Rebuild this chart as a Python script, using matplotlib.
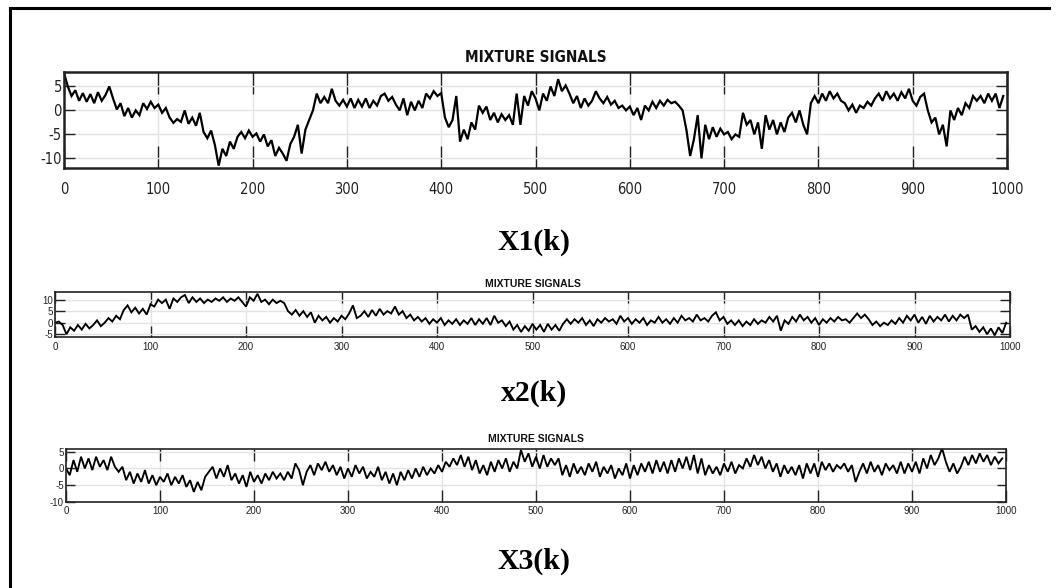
import os
import numpy as np
import matplotlib
matplotlib.use("Agg")
import matplotlib.pyplot as plt
import matplotlib.font_manager as fm
from matplotlib.lines import Line2D

plt.rcParams["axes.unicode_minus"] = False

# ---------------- data (sample index, step 4) ----------------
k = np.arange(0, 1000, 4)

x1 = [7.8, 5.0, 3.0, 4.2, 2.0, 3.6, 1.8, 3.4, 1.5, 3.8,
      2.0, 3.2, 5.0, 2.5, 0.2, 1.5, -1.2, 0.5, -1.5, 0.0,
      -1.0, 1.5, 0.3, 1.8, 0.5, 1.2, -0.5, 0.5, -1.5, -2.6,
      -1.8, -2.4, 0.0, -2.8, -1.5, -3.2, -0.5, -4.5, -5.8, -4.2,
      -7.2, -11.5, -8.0, -9.5, -6.5, -8.0, -5.5, -4.5, -5.8, -4.2,
      -5.5, -4.8, -6.5, -5.0, -7.5, -6.2, -9.5, -7.8, -9.0, -10.5,
      -7.0, -5.5, -3.0, -9.0, -4.0, -2.0, 0.0, 3.5, 1.5, 2.8,
      1.5, 4.5, 2.0, 1.0, 2.2, 0.8, 2.5, 0.5, 2.2, 0.8,
      2.5, 0.5, 2.0, 1.0, 3.0, 3.5, 2.0, 2.8, 1.2, 0.0,
      2.5, -1.0, 1.8, 0.0, 2.0, 0.5, 3.5, 2.5, 4.0, 3.0,
      3.6, -1.5, -3.5, -2.0, 3.0, -6.5, -4.0, -6.0, -2.5, -4.0,
      1.0, -0.5, 0.8, -2.0, -0.5, -2.5, -0.8, -2.0, -1.0, -3.0,
      3.5, -3.0, 3.0, 1.0, 4.0, 2.5, 0.0, 3.5, 2.0, 5.0,
      3.0, 6.5, 4.0, 5.2, 3.5, 1.5, 3.0, 0.5, 2.5, 1.0,
      2.0, 4.0, 2.5, 1.5, 2.8, 1.2, 2.0, 0.5, 1.0, 0.0,
      0.8, -1.0, 0.5, -2.0, 1.0, 0.0, 1.8, 0.5, 2.0, 1.0,
      2.2, 1.5, 1.8, 1.0, 0.0, -4.0, -9.5, -6.0, -1.0, -10.0,
      -3.0, -6.0, -3.5, -5.5, -3.8, -5.0, -4.5, -6.0, -5.0, -5.5,
      -0.5, -3.0, -2.0, -5.0, -2.5, -8.0, -1.0, -4.0, -2.0, -5.0,
      -2.5, -4.5, -1.5, -0.5, -2.5, 0.0, -3.0, -5.0, 1.5, 3.0,
      1.5, 3.5, 2.0, 4.0, 2.5, 3.5, 2.0, 1.5, 0.0, 1.2,
      -0.5, 1.0, 0.5, 1.8, 1.0, 2.5, 3.5, 2.0, 4.0, 2.5,
      3.5, 2.0, 3.8, 2.5, 4.5, 2.0, 1.0, 2.8, 3.5, 0.0,
      -2.5, -1.5, -5.0, -3.0, -7.5, 0.0, -2.0, 0.5, -1.0, 1.5,
      0.5, 3.0, 2.0, 3.0, 1.5, 3.5, 2.0, 3.5, 0.5, 3.0]

x2 = [0.0, 0.5, -1.0, -5.0, -2.0, -3.5, -1.0, -3.0, -0.5, -2.5,
      -1.0, 1.0, -1.5, 0.0, 2.0, 0.5, 3.0, 1.5, 5.5, 7.5,
      4.5, 6.5, 4.0, 6.0, 3.5, 8.0, 7.0, 10.0, 8.5, 10.0,
      6.0, 10.5, 9.0, 11.0, 12.0, 8.5, 11.0, 9.0, 10.5, 8.5,
      10.0, 9.0, 10.5, 9.5, 11.0, 9.0, 10.5, 9.5, 11.0, 9.0,
      7.0, 11.0, 9.5, 12.5, 9.0, 10.0, 8.0, 10.0, 8.5, 9.5,
      8.5, 5.0, 3.5, 5.5, 3.0, 5.0, 2.5, 4.5, 0.0, 3.0,
      1.0, 2.5, 0.0, 2.0, 0.5, 3.0, 1.5, 4.0, 7.5, 2.0,
      3.0, 5.0, 2.5, 5.5, 3.0, 6.0, 3.5, 5.0, 4.0, 7.0,
      3.5, 5.0, 2.0, 3.5, 1.0, 2.5, 0.5, 2.0, -0.5, 1.5,
      0.0, 2.0, -1.0, 1.0, -0.5, 1.5, -1.0, 1.0, -0.5, 2.0,
      -1.0, 1.5, -0.5, 2.0, -1.0, 3.0, 0.0, 1.0, -1.5, 0.5,
      -3.0, -1.0, -4.0, -1.5, -3.5, -0.5, -3.0, -1.0, -4.0, -0.5,
      -3.0, -1.0, -3.5, -0.5, 1.5, -0.5, 1.5, 0.0, 2.0, -1.0,
      1.0, -1.5, 1.5, 0.0, 2.0, 0.5, 1.5, -0.5, 3.0, 0.5,
      2.0, -0.5, 1.5, 0.0, 2.0, -1.0, 1.0, 0.0, 2.5, 0.0,
      1.5, -0.5, 2.0, 0.0, 3.0, 1.0, 2.0, 0.5, 3.5, 1.0,
      2.0, 0.5, 3.0, 4.5, 1.0, 2.5, -0.5, 1.0, -1.0, 1.0,
      -1.5, 0.5, -1.0, 1.5, -0.5, 1.0, 0.0, 2.5, 0.5, 3.0,
      -3.5, 1.0, -0.5, 2.5, 0.5, 3.5, 1.0, 2.5, 0.0, 2.0,
      -1.0, 1.5, 0.0, 2.0, 0.5, 2.5, 1.0, 1.5, 0.0, 2.0,
      4.0, 2.0, 3.5, 1.5, -1.0, 0.5, -1.5, 0.0, -1.0, 1.0,
      -0.5, 2.0, 0.0, 3.0, 1.0, 3.5, 0.0, 2.5, -0.5, 3.0,
      0.5, 2.5, 1.0, 3.5, 0.5, 3.0, 1.0, 3.5, 2.0, 3.5,
      -3.0, -1.5, -4.0, -2.0, -5.0, -2.5, -5.5, -2.0, -4.5, 0.0]

x3 = [0.0, -2.0, 2.5, -1.0, 3.5, 0.0, 3.0, -0.5, 3.5, 0.5,
      2.5, -0.5, 3.5, 0.5, -1.0, 0.5, -3.5, -1.0, -4.5, -1.5,
      -4.0, -0.5, -4.5, -2.0, -5.0, -2.5, -4.0, -1.5, -5.0, -2.5,
      -4.5, -2.0, -5.5, -3.5, -7.0, -4.0, -6.5, -2.5, -1.0, 0.5,
      -3.0, 0.0, -2.5, 1.0, -3.5, -1.5, -4.5, -2.0, -5.5, -1.0,
      -4.0, -2.0, -4.5, -1.5, -3.5, -1.0, -3.0, -1.5, -3.5, -1.0,
      -3.0, 1.5, -0.5, -5.0, -1.0, 1.0, -2.0, 1.5, -0.5, 2.0,
      -1.0, 1.0, -2.0, 0.5, -3.0, 0.0, -2.5, 1.0, -1.5, 0.5,
      -3.0, -1.0, -2.5, 0.5, -3.5, -1.0, -4.5, -1.5, -5.0, -1.0,
      -3.5, -0.5, -3.0, 0.0, -2.5, 0.5, -2.0, 0.0, -1.5, 1.0,
      -1.0, 2.0, 0.5, 3.0, 1.0, 4.0, 0.5, 3.5, -0.5, 2.5,
      -1.5, 1.0, -2.0, 2.0, -1.0, 2.5, 0.0, 3.0, -1.0, 2.0,
      0.0, 5.5, 2.0, 4.5, 0.5, 3.5, 0.0, 4.0, 0.5, 3.0,
      1.0, 3.0, -2.0, 1.0, -2.5, 1.5, -1.5, 0.5, -2.0, 1.5,
      -1.0, 2.0, -2.5, 0.5, -1.5, 1.0, -3.0, 0.0, -2.0, 1.5,
      -3.0, 1.0, -2.0, 1.5, -1.0, 2.0, -1.5, 2.5, -1.0, 2.0,
      -1.5, 2.5, -1.0, 3.0, 0.0, 3.5, -0.5, 4.0, -1.5, 3.0,
      -2.0, 1.0, -1.5, 0.5, -2.0, 1.5, -1.0, 2.0, -1.5, 1.0,
      0.0, 3.0, 0.5, 4.0, 1.0, 3.5, 0.0, 2.5, -1.0, 1.5,
      -2.5, 1.0, -1.5, 0.5, -2.0, 1.0, -3.0, 1.5, -1.5, 1.5,
      -2.5, 2.0, -0.5, 1.5, -1.0, 1.0, 0.0, 1.5, -1.0, 1.0,
      -4.0, -1.0, 1.5, -1.5, 2.0, -1.0, 1.0, -2.0, 1.5, -0.5,
      1.0, -1.5, 2.0, -1.5, 1.5, -1.0, 2.0, -1.5, 3.0, 0.0,
      4.0, 1.0, 3.0, 6.0, 2.0, -1.0, 1.5, -1.5, 0.5, 3.5,
      1.0, 4.0, 1.5, 4.5, 2.0, 4.0, 1.0, 3.5, 1.5, 3.0]

series = [x1, x2, x3]
titles = ["MIXTURE SIGNALS", "MIXTURE SIGNALS", "MIXTURE SIGNALS"]
labels = ["X1(k)", "x2(k)", "X3(k)"]
xticks = list(range(0, 1001, 100))
yticks = [[-10, -5, 0, 5], [-5, 0, 5, 10], [-10, -5, 0, 5]]
ylims = [(-12, 8), (-6.2, 13.3), (-10, 5.8)]

# ---------------- fonts ----------------
names = {f.name for f in fm.fontManager.ttflist}
sans = "Liberation Sans" if "Liberation Sans" in names else "DejaVu Sans"
serif = "Liberation Serif" if "Liberation Serif" in names else "DejaVu Serif"


def condensed(bold):
    best = None
    for f in fm.fontManager.ttflist:
        base = os.path.basename(f.fname).lower()
        is_cond = ("narrow" in f.name.lower() or "condensed" in f.name.lower()
                   or "narrow" in base or "condensed" in base
                   or str(f.stretch) in ("condensed", "semi-condensed", "extra-condensed"))
        if not is_cond or "serif" in f.name.lower() or "mono" in f.name.lower():
            continue
        if "italic" in base or "oblique" in base or f.style != "normal":
            continue
        w = f.weight if isinstance(f.weight, int) else (700 if f.weight == "bold" else 400)
        if (w >= 600) != bold:
            continue
        if "light" in base or "extra" in base.replace("extracondensed", ""):
            continue
        score = 0 if "liberation" in base else (1 if "dejavu" in base else 2)
        if best is None or score < best[0]:
            best = (score, f.fname)
    if best is None:
        return fm.FontProperties(family=sans, weight="bold" if bold else "normal")
    return fm.FontProperties(fname=best[1])

cond_reg = condensed(False)
cond_bold = condensed(True)

W, H = 1057, 588
fig = plt.figure(figsize=(W / 100, H / 100), dpi=100)


def box(l, t, r, b):
    return [l / W, 1 - b / H, (r - l) / W, (b - t) / H]

rects = [box(64, 72, 1007, 168), box(55, 292, 1010, 337), box(66, 449, 1006, 502)]
cfg = [
    dict(tsize=11, tpad=7.0, lsize=10.5, xpad=10, ypad=1.5, xlen=16, ylen=8, lw=1.6, spw=1.8),
    dict(tsize=7.5, tpad=3.5, lsize=7, xpad=3.5, ypad=1.5, xlen=8, ylen=7, lw=1.35, spw=1.2),
    dict(tsize=7.5, tpad=5, lsize=7, xpad=3, ypad=1.5, xlen=8.5, ylen=6.5, lw=1.35, spw=1.2),
]
label_y = [242, 393, 561]

for i in range(3):
    c = cfg[i]
    ax = fig.add_axes(rects[i])
    ax.plot(k, series[i], color="black", lw=c["lw"], solid_joinstyle="miter")
    ax.set_xlim(0, 1000)
    ax.set_ylim(*ylims[i])
    ax.set_xticks(xticks)
    ax.set_yticks(yticks[i])
    ax.grid(True, color="#e3e3e3", lw=1.0)
    ax.set_axisbelow(True)
    for s in ax.spines.values():
        s.set_linewidth(c["spw"])
        s.set_color("#222222")
    ax.tick_params(axis="x", direction="in", length=c["xlen"], width=1.0, top=True,
                   pad=c["xpad"], labelsize=c["lsize"], colors="#222222")
    ax.tick_params(axis="y", direction="in", length=c["ylen"], width=1.0, right=True,
                   pad=c["ypad"], labelsize=c["lsize"], colors="#222222")
    if i == 0:
        fp = cond_reg.copy()
        fp.set_size(c["lsize"])
        for t in ax.get_xticklabels() + ax.get_yticklabels():
            t.set_fontproperties(fp)
        tp = cond_bold.copy()
        tp.set_size(c["tsize"])
        ax.set_title(titles[i], fontproperties=tp, pad=c["tpad"], color="#111111")
    else:
        for t in ax.get_xticklabels() + ax.get_yticklabels():
            t.set_fontfamily(sans)
        ax.set_title(titles[i], fontsize=c["tsize"], fontweight="bold",
                     fontfamily=sans, pad=c["tpad"], color="#111111")
    fig.text(534 / W, 1 - label_y[i] / H, labels[i], ha="center", va="center",
             fontsize=21.5, fontweight="bold", fontfamily=serif, color="black")

# page frame (left and top)
fig.add_artist(Line2D([9.5 / W, 9.5 / W], [0, 1 - 8 / H], transform=fig.transFigure,
                      color="black", lw=2.2))
fig.add_artist(Line2D([9.5 / W, 1049 / W], [1 - 8 / H, 1 - 8 / H], transform=fig.transFigure,
                      color="black", lw=2.2))

fig.savefig("out.png", dpi=100)
